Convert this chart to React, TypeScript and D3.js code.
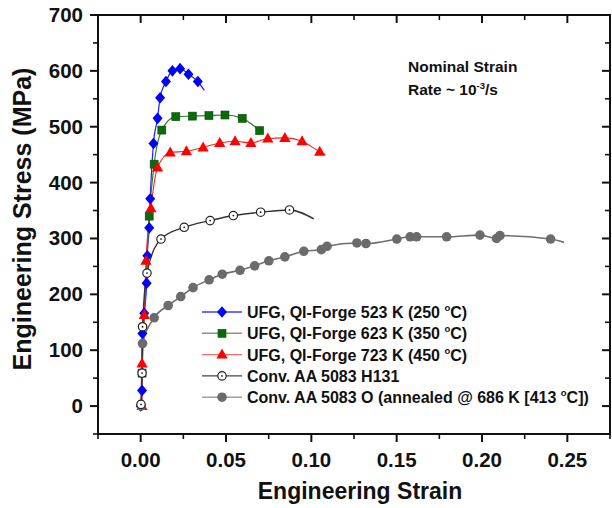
import React from "react";
import * as d3 from "d3";

// [engineering strain, engineering stress MPa]
const ufg523 = [
  [0.0, 0], [0.0008, 28], [0.001, 130], [0.0021, 166], [0.0035, 220], [0.0039, 269],
  [0.005, 319], [0.0056, 371], [0.0075, 470], [0.0099, 515], [0.0114, 552],
  [0.0148, 581], [0.0186, 600], [0.0231, 604], [0.028, 594], [0.0335, 581],
];
const ufg523Tail = [[0.0373, 565]];

const ufg623 = [
  [0.0008, 59], [0.005, 340], [0.0079, 433], [0.0124, 494], [0.0206, 518],
  [0.0303, 519], [0.04, 520], [0.0494, 521], [0.0595, 515], [0.0697, 493],
];

const ufg723 = [
  [0.0008, 0], [0.0008, 76], [0.0021, 163], [0.0031, 260], [0.006, 354], [0.0099, 427],
  [0.0173, 454], [0.0268, 456], [0.0366, 463], [0.0463, 471], [0.0553, 474],
  [0.0646, 471], [0.0745, 479], [0.0845, 480], [0.0946, 474], [0.1049, 455],
];
const ufg723Tail = [[0.1082, 450]];

const h131 = [
  [0.0002, 3], [0.0008, 59], [0.0011, 142], [0.0037, 238], [0.0119, 299],
  [0.0255, 320], [0.0407, 332], [0.0543, 341], [0.0703, 347], [0.0872, 351],
];
const h131Tail = [[0.1014, 335]];

const oTemper = [
  [0.0003, 0], [0.0011, 112], [0.0079, 158], [0.0161, 180], [0.0235, 196], [0.0307, 212],
  [0.0401, 226], [0.0478, 236], [0.0582, 243], [0.0668, 251], [0.0751, 260],
  [0.0845, 267], [0.0956, 277], [0.1059, 280], [0.1092, 286], [0.1267, 292],
  [0.132, 291], [0.1501, 299], [0.1579, 303], [0.1617, 303], [0.1793, 303],
  [0.1988, 306], [0.2085, 300], [0.2105, 305], [0.2402, 299],
];
const oTemperTail = [[0.248, 293]];

const legendNames = [
  ["UFG, QI-Forge 523 K (250 ", "C)"],
  ["UFG, QI-Forge 623 K (350 ", "C)"],
  ["UFG, QI-Forge 723 K (450 ", "C)"],
  ["Conv. AA 5083 H131", ""],
  ["Conv. AA 5083 O (annealed @ 686 K [413 ", "C])"],
];

const xTicks = [0, 0.05, 0.1, 0.15, 0.2, 0.25];
const yTicks = [0, 100, 200, 300, 400, 500, 600, 700];

const W = 612;
const H = 508;
const left = 98;
const right = 610;
const top = 15;
const bottom = 434;

const font = "'Liberation Sans', Arial, sans-serif";

const Marker = ({ kind, x, y }) => {
  if (kind === "diamond")
    return <path d={`M${x},${y - 5.8}L${x + 5},${y}L${x},${y + 5.8}L${x - 5},${y}Z`} fill="#0000ff" />;
  if (kind === "square")
    return <rect x={x - 4} y={y - 4} width={8} height={8} fill="#0b6b0b" stroke="#094d09" strokeWidth={0.6} />;
  if (kind === "triangle")
    return <path d={`M${x},${y - 6}L${x + 5.6},${y + 4}L${x - 5.6},${y + 4}Z`} fill="#ff0000" />;
  if (kind === "open")
    return (
      <g>
        <circle cx={x} cy={y} r={4.2} fill="#fff" stroke="#222" strokeWidth={1.2} />
        <circle cx={x} cy={y} r={0.9} fill="#222" />
      </g>
    );
  return <circle cx={x} cy={y} r={4.8} fill="#6b6b6b" />;
};

const App = () => {
  const x = d3.scaleLinear().domain([-0.025, 0.275]).range([left, right]);
  const y = d3.scaleLinear().domain([-50, 700]).range([bottom, top]);
  const line = d3
    .line()
    .x(d => x(d[0]))
    .y(d => y(d[1]))
    .curve(d3.curveMonotoneX);

  const series = [
    { pts: ufg523, tail: ufg523Tail, kind: "diamond", line: "#1f1fff", lw: 1.2 },
    { pts: ufg623, tail: [], kind: "square", line: "#2e7d2e", lw: 1.2 },
    { pts: ufg723, tail: ufg723Tail, kind: "triangle", line: "#ff2020", lw: 1.1 },
    { pts: oTemper, tail: oTemperTail, kind: "filled", line: "#6e6e6e", lw: 1.6 },
    { pts: h131, tail: h131Tail, kind: "open", line: "#333333", lw: 1.4 },
  ];
  const legendOrder = [0, 1, 2, 4, 3];
  const legendLine = ["#3b3bff", "#7aa07a", "#ff6a6a", "#444444", "#a0a0a0"];

  const xMinor = d3.range(-0.025, 0.2751, 0.025).filter(v => !xTicks.some(t => Math.abs(t - v) < 1e-6));
  const yMinor = d3.range(-50, 701, 50).filter(v => !yTicks.some(t => Math.abs(t - v) < 1e-6));

  return (
    <svg width={W} height={H} style={{ position: "absolute", left: 0, top: 0 }} fontFamily={font}>
      <rect width={W} height={H} fill="#fff" />

      {series.map((s, i) => (
        <path key={i} d={line([...s.pts, ...s.tail])} fill="none" stroke={s.line} strokeWidth={s.lw} />
      ))}
      {series.map((s, i) => (
        <g key={i}>
          {s.pts.map((p, j) => (
            <Marker key={j} kind={s.kind} x={x(p[0])} y={y(p[1])} />
          ))}
        </g>
      ))}

      {/* frame */}
      <rect x={left} y={top} width={right - left} height={bottom - top} fill="none" stroke="#111" strokeWidth={2} />
      {xTicks.map(t => (
        <g key={t}>
          <line x1={x(t)} x2={x(t)} y1={bottom} y2={bottom + 8} stroke="#111" strokeWidth={2} />
          <line x1={x(t)} x2={x(t)} y1={top} y2={top + 8} stroke="#111" strokeWidth={2} />
          <text x={x(t)} y={467} textAnchor="middle" fontSize={20.5} fontWeight="bold" fill="#111">
            {d3.format(".2f")(t)}
          </text>
        </g>
      ))}
      {xMinor.map(t => (
        <g key={t}>
          <line x1={x(t)} x2={x(t)} y1={bottom} y2={bottom + 5} stroke="#111" strokeWidth={1.6} />
          <line x1={x(t)} x2={x(t)} y1={top} y2={top + 5} stroke="#111" strokeWidth={1.6} />
        </g>
      ))}
      {yTicks.map(t => (
        <g key={t}>
          <line x1={left - 8} x2={left} y1={y(t)} y2={y(t)} stroke="#111" strokeWidth={2} />
          <line x1={right - 8} x2={right} y1={y(t)} y2={y(t)} stroke="#111" strokeWidth={2} />
          <text x={83} y={y(t) + 7} textAnchor="end" fontSize={20.5} fontWeight="bold" fill="#111">
            {t}
          </text>
        </g>
      ))}
      {yMinor.map(t => (
        <g key={t}>
          <line x1={left - 5} x2={left} y1={y(t)} y2={y(t)} stroke="#111" strokeWidth={1.6} />
          <line x1={right - 5} x2={right} y1={y(t)} y2={y(t)} stroke="#111" strokeWidth={1.6} />
        </g>
      ))}

      {/* axis titles */}
      <text x={360} y={499} textAnchor="middle" fontSize={23} fontWeight="bold" fill="#111">
        Engineering Strain
      </text>
      <text
        transform="translate(31,219) rotate(-90)"
        textAnchor="middle"
        fontSize={25}
        fontWeight="bold"
        fill="#111"
      >
        Engineering Stress (MPa)
      </text>

      {/* annotation */}
      <text x={408} y={72} fontSize={15.5} fontWeight="bold" fill="#111">
        Nominal Strain
      </text>
      <text x={408} y={95} fontSize={15.5} fontWeight="bold" fill="#111">
        Rate ~ 10
        <tspan fontSize={9.5} dy={-6}>-3</tspan>
        <tspan dy={6}>/s</tspan>
      </text>

      {/* legend */}
      {legendOrder.map((si, i) => {
        const ly = 312 + i * 21.3;
        const s = series[si];
        const [a, b] = legendNames[i];
        return (
          <g key={i}>
            <line x1={202} x2={242} y1={ly} y2={ly} stroke={legendLine[i]} strokeWidth={1.4} />
            <Marker kind={s.kind} x={222} y={ly} />
            <text x={247} y={ly + 6} fontSize={16} fontWeight="bold" fill="#111">
              {a}
              {b && (
                <>
                  <tspan fontSize={9.5} dy={-7}>o</tspan>
                  <tspan dy={7}>{b}</tspan>
                </>
              )}
            </text>
          </g>
        );
      })}
    </svg>
  );
};

export default App;
